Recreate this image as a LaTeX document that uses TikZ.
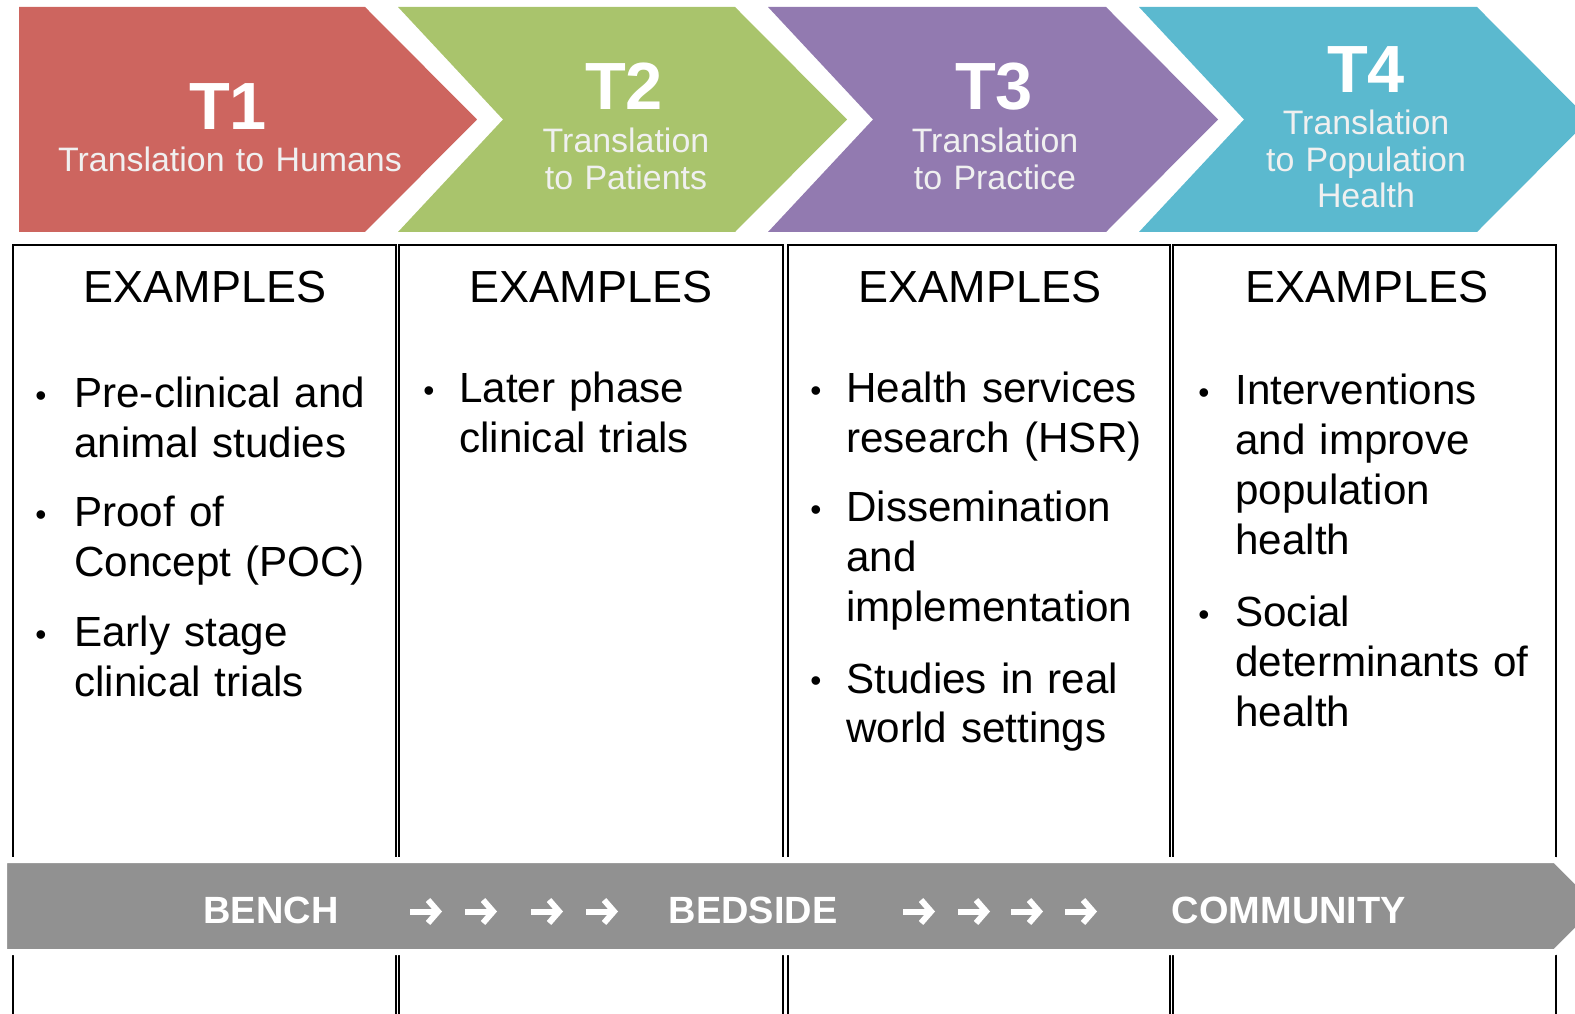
\documentclass[tikz,border=0pt]{standalone}
\usepackage{fontspec}
\setmainfont{Liberation Sans}
\usetikzlibrary{arrows.meta}
\definecolor{phasered}{RGB}{205,101,95}
\definecolor{phasegreen}{RGB}{169,196,108}
\definecolor{phasepurple}{RGB}{146,122,176}
\definecolor{phaseblue}{RGB}{91,185,207}
\definecolor{bargray}{RGB}{145,145,145}
\begin{document}
\begin{tikzpicture}[
    titlefont/.style={font=\fontsize{38}{40}\selectfont\bfseries, text=white},
    subfont/.style={font=\fontsize{19.3}{20.5}\selectfont, text=white!94!black, text width=7cm, align=center},
    headfont/.style={font=\fontsize{25.6}{28}\selectfont},
    itemfont/.style={font=\fontsize{24}{28.45}\selectfont, text width=6.3cm, align=left, inner sep=0pt},
    dotfont/.style={font=\fontsize{18}{20}\selectfont, inner sep=0pt},
    barfont/.style={font=\fontsize{21.6}{24}\selectfont\bfseries, text=white},
    barrow/.style={draw=white, line width=0.12cm, -{Straight Barb[length=0.2cm,width=0.46cm]}},
  ]
            \useasboundingbox (0,0) rectangle (31.500000,20.260000);
            {
            
            % Drawing chevron T1
            \fill [phasered] (0.380000,20.120000) -- (7.300000,20.120000) -- (9.540000,17.870000) -- (7.300000,15.620000) -- (0.380000,15.620000) -- cycle;%
            
            % Drawing chevron T2
            \fill [phasegreen] (7.960000,20.120000) -- (14.700000,20.120000) -- (16.940000,17.870000) -- (14.700000,15.620000) -- (7.960000,15.620000) -- (10.060000,17.870000) -- cycle;%
            
            % Drawing chevron T3
            \fill [phasepurple] (15.360000,20.120000) -- (22.120000,20.120000) -- (24.360000,17.870000) -- (22.120000,15.620000) -- (15.360000,15.620000) -- (17.460000,17.870000) -- cycle;%
            
            % Drawing chevron T4
            \fill [phaseblue] (22.780000,20.120000) -- (29.540000,20.120000) -- (31.780000,17.870000) -- (29.540000,15.620000) -- (22.780000,15.620000) -- (24.880000,17.870000) -- cycle;%
            
            % Marking phase titles
            \draw (4.560000,17.660000) node [titlefont, anchor=base] (t1) {T1};%
            \draw (12.480000,18.060000) node [titlefont, anchor=base] (t2) {T2};%
            \draw (19.880000,18.060000) node [titlefont, anchor=base] (t3) {T3};%
            \draw (27.320000,18.400000) node [titlefont, anchor=base] (t4) {T4};%
            
            % Marking phase subtitles
            \draw (4.600000,16.820000) node [subfont, anchor=base] (t1sub) {Translation to Humans};%
            \draw (12.520000,17.200000) node [subfont, anchor=base] (t2sub) {Translation\\to Patients};%
            \draw (19.900000,17.200000) node [subfont, anchor=base] (t3sub) {Translation\\to Practice};%
            \draw (27.320000,17.560000) node [subfont, anchor=base] (t4sub) {Translation\\to Population\\Health};%
            
            % Drawing column boxes
            \draw [line width=0.035cm] (0.260000,-0.500000) -- (0.260000,15.360000) -- (7.920000,15.360000) -- (7.920000,-0.500000);%
            \draw [line width=0.035cm] (7.980000,-0.500000) -- (7.980000,15.360000) -- (15.660000,15.360000) -- (15.660000,-0.500000);%
            \draw [line width=0.035cm] (15.760000,-0.500000) -- (15.760000,15.360000) -- (23.400000,15.360000) -- (23.400000,-0.500000);%
            \draw [line width=0.035cm] (23.460000,-0.500000) -- (23.460000,15.360000) -- (31.120000,15.360000) -- (31.120000,-0.500000);%
            
            % Marking column headings
            \draw (4.100000,14.200000) node [headfont, anchor=base] (ex1) {EXAMPLES};%
            \draw (11.820000,14.200000) node [headfont, anchor=base] (ex2) {EXAMPLES};%
            \draw (19.600000,14.200000) node [headfont, anchor=base] (ex3) {EXAMPLES};%
            \draw (27.340000,14.200000) node [headfont, anchor=base] (ex4) {EXAMPLES};%
            
            % Marking items of column 1
            \draw (0.820000,12.280000) node [dotfont] (d11) {•};%
            \draw (1.480000,12.100000) node [itemfont, anchor=base west] (i11) {Pre-clinical and\\animal studies};%
            \draw (0.820000,9.900000) node [dotfont] (d12) {•};%
            \draw (1.480000,9.720000) node [itemfont, anchor=base west] (i12) {Proof of\\Concept (POC)};%
            \draw (0.820000,7.500000) node [dotfont] (d13) {•};%
            \draw (1.480000,7.320000) node [itemfont, anchor=base west] (i13) {Early stage\\clinical trials};%
            
            % Marking items of column 2
            \draw (8.580000,12.380000) node [dotfont] (d21) {•};%
            \draw (9.180000,12.200000) node [itemfont, anchor=base west] (i21) {Later phase\\clinical trials};%
            
            % Marking items of column 3
            \draw (16.320000,12.380000) node [dotfont] (d31) {•};%
            \draw (16.920000,12.200000) node [itemfont, anchor=base west] (i31) {Health services\\research (HSR)};%
            \draw (16.320000,10.000000) node [dotfont] (d32) {•};%
            \draw (16.920000,9.820000) node [itemfont, anchor=base west] (i32) {Dissemination\\and\\implementation};%
            \draw (16.320000,6.580000) node [dotfont] (d33) {•};%
            \draw (16.920000,6.400000) node [itemfont, anchor=base west] (i33) {Studies in real\\world settings};%
            
            % Marking items of column 4
            \draw (24.080000,12.340000) node [dotfont] (d41) {•};%
            \draw (24.700000,12.160000) node [itemfont, anchor=base west] (i41) {Interventions\\and improve\\population\\health};%
            \draw (24.080000,7.900000) node [dotfont] (d42) {•};%
            \draw (24.700000,7.720000) node [itemfont, anchor=base west] (i42) {Social\\determinants of\\health};%
            
            % Drawing bottom bar
            \draw [draw=white, line width=0.12cm, fill=bargray] (0.080000,3.060000) -- (31.100000,3.060000) -- (32.020000,2.140000) -- (31.100000,1.220000) -- (0.080000,1.220000) -- cycle;%
            
            % Marking bar words
            \draw (5.420000,1.800000) node [barfont, anchor=base] (bench) {BENCH};%
            \draw (15.060000,1.800000) node [barfont, anchor=base] (bedside) {BEDSIDE};%
            \draw (25.780000,1.800000) node [barfont, anchor=base] (community) {COMMUNITY};%
            
            % Drawing bar arrows
            \draw [barrow] (8.200000,2.030000) -- (8.840000,2.030000);%
            \draw [barrow] (9.300000,2.030000) -- (9.940000,2.030000);%
            \draw [barrow] (10.620000,2.030000) -- (11.260000,2.030000);%
            \draw [barrow] (11.720000,2.030000) -- (12.360000,2.030000);%
            \draw [barrow] (18.060000,2.030000) -- (18.700000,2.030000);%
            \draw [barrow] (19.160000,2.030000) -- (19.800000,2.030000);%
            \draw [barrow] (20.220000,2.030000) -- (20.860000,2.030000);%
            \draw [barrow] (21.300000,2.030000) -- (21.940000,2.030000);%
            }
        \end{tikzpicture}
\end{document}
